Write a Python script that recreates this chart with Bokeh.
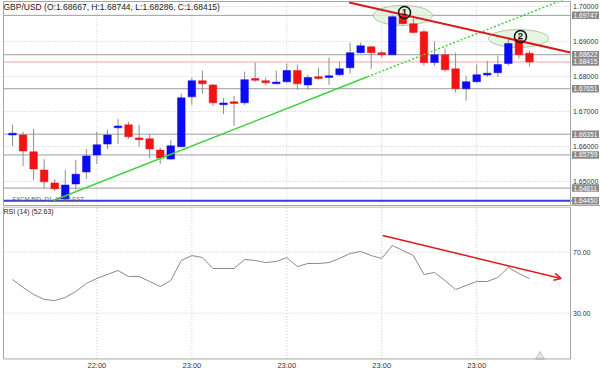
from bokeh.plotting import figure
from bokeh.layouts import column
from bokeh.models import Range1d, Label, Arrow, OpenHead, ColumnDataSource
from bokeh.core.properties import value
from bokeh.embed import file_html
from bokeh.resources import INLINE

FONT = "Liberation Sans"

# ---------------- data ----------------
opens = [1.6635, 1.6633, 1.6585, 1.6533, 1.6496, 1.6450, 1.6493, 1.6527, 1.6576, 1.6607,
         1.6655, 1.6662, 1.6623, 1.6622, 1.6590, 1.6564, 1.6599, 1.6742, 1.6788, 1.6776,
         1.6720, 1.6727, 1.6725, 1.6793, 1.6788, 1.6780, 1.6785, 1.6817, 1.6776, 1.6798,
         1.6797, 1.6805, 1.6825, 1.6868, 1.6885, 1.6868, 1.6862, 1.6974, 1.6951, 1.6928,
         1.6840, 1.6862, 1.6822, 1.6765, 1.6785, 1.6806, 1.6811, 1.6837, 1.6905, 1.68667]
highs = [1.6662, 1.6642, 1.6650, 1.6564, 1.6507, 1.6533, 1.6562, 1.6593, 1.6642, 1.6648,
         1.6679, 1.6670, 1.6662, 1.6636, 1.6596, 1.6619, 1.6751, 1.6797, 1.6817, 1.6779,
         1.6739, 1.6745, 1.6814, 1.6840, 1.6797, 1.6817, 1.6837, 1.6834, 1.6805, 1.6825,
         1.6854, 1.6842, 1.6897, 1.6897, 1.6888, 1.6874, 1.6975, 1.6985, 1.6966, 1.6934,
         1.6900, 1.6880, 1.6868, 1.6802, 1.6834, 1.6845, 1.6860, 1.6908, 1.6923, 1.68744]
lows = [1.6602, 1.6544, 1.6504, 1.6479, 1.6473, 1.6445, 1.6476, 1.6507, 1.6550, 1.6593,
        1.6607, 1.6622, 1.6599, 1.6567, 1.6550, 1.6562, 1.6599, 1.6719, 1.6751, 1.6716,
        1.6693, 1.6659, 1.6719, 1.6785, 1.6774, 1.6779, 1.6782, 1.6762, 1.6762, 1.6791,
        1.6776, 1.6802, 1.6808, 1.6866, 1.6822, 1.6854, 1.6862, 1.6948, 1.6923, 1.6831,
        1.6831, 1.6814, 1.6754, 1.6731, 1.6782, 1.6799, 1.6799, 1.6831, 1.6851, 1.68286]
closes = [1.6636, 1.6587, 1.6536, 1.6499, 1.6479, 1.6490, 1.6521, 1.6573, 1.6605, 1.6633,
          1.6657, 1.6628, 1.6621, 1.6593, 1.6567, 1.6602, 1.6739, 1.6788, 1.6779, 1.6725,
          1.6724, 1.6724, 1.6791, 1.6790, 1.6782, 1.6783, 1.6817, 1.6779, 1.6797, 1.6796,
          1.6802, 1.6822, 1.6868, 1.6888, 1.6868, 1.6862, 1.6971, 1.6951, 1.6926, 1.6840,
          1.6862, 1.6819, 1.6765, 1.6785, 1.6805, 1.6808, 1.6834, 1.6894, 1.6862, 1.68415]
rsi = [52.1, 46.9, 42.3, 39.0, 38.3, 40.3, 44.2, 49.5, 52.8, 55.4,
       58.0, 54.1, 54.1, 50.8, 47.5, 51.4, 64.6, 67.8, 66.5, 59.3,
       59.3, 59.3, 65.2, 64.6, 63.2, 63.9, 66.5, 60.6, 62.6, 62.6,
       63.2, 65.9, 69.1, 70.5, 67.8, 65.9, 74.4, 71.1, 67.8, 55.4,
       56.7, 51.4, 45.5, 48.2, 50.8, 50.8, 53.4, 60.0, 56.0, 52.63]

gray_levels = [1.69747, 1.68622, 1.67651, 1.66351, 1.65759, 1.64811]
price_ticks = [1.65, 1.66, 1.67, 1.68, 1.69, 1.70]
rsi_ticks = [30, 70]
time_tick_pos = [8, 17, 26, 35, 44]
time_tick_labels = ["22:00", "23:00", "23:00", "23:00", "23:00"]

# drawn annotations (bar index, price / rsi)
red_trend_x = [31.9, 52.9]
red_trend_y = [1.70114, 1.68686]
green_solid_x = [3.89, 33.65]
green_solid_y = [1.64457, 1.67992]
green_dot_x = [33.65, 52.9]
green_dot_y = [1.67992, 1.70278]
ellipse_x = [37.0, 47.96]
ellipse_y = [1.69743, 1.69086]
ellipse_w = [5.6, 5.7]
ellipse_h = [0.0057, 0.0051]
peak_x = [37.16, 48.15]
peak_y = [1.69829, 1.69143]
peak_text = ["1", "2"]
rsi_arrow_x = [35.1, 52.0]
rsi_arrow_y = [80.9, 52.8]
marker_x = [50.0]
marker_y = [1.5]

# ---------------- layout helpers (pixel -> data) ----------------
def xi(px):
    return (px - 12) / 10.55

def py(ypx):
    return 1.70 - (ypx - 6) / 3500.0

def ry(ypx):
    return 30 + (312.7 - ypx) * 40 / 61.0

X_L, X_R = xi(3), xi(570)
LAB_X = xi(572.5)
BOX_X, BOX_W = xi(585), 27 / 10.55

# ---------------- derived ----------------
n = len(opens)
idx = list(range(n))
BLUE = "#0c0cf2"
RED = "#f01414"
colors = [BLUE if c >= o else RED for o, c in zip(opens, closes)]
tops, bots = [], []
for o, c in zip(opens, closes):
    t, b = max(o, c), min(o, c)
    if t - b < 0.0005:
        m = (t + b) / 2
        t, b = m + 0.00025, m - 0.00025
    tops.append(t)
    bots.append(b)
src = ColumnDataSource(dict(x=idx, o=opens, h=highs, l=lows, c=closes,
                            top=tops, bot=bots, color=colors))

last_close = closes[-1]
low_level = min(lows)
all_levels = sorted(gray_levels + [last_close, low_level], reverse=True)

XR = Range1d(xi(0), xi(600))
GRID = "#c9c9c9"
BORDER = "#a6a6a6"
AXIS_TXT = "#333333"


def base_fig(h, yr):
    f = figure(width=600, height=h, x_range=XR, y_range=yr,
               x_axis_location=None, y_axis_location=None,
               output_backend="svg", toolbar_location=None,
               min_border_left=0, min_border_right=0,
               min_border_top=0, min_border_bottom=0)
    f.outline_line_color = None
    f.grid.visible = False
    f.background_fill_color = "white"
    f.border_fill_color = "white"
    return f


# ---------------- main price panel ----------------
p = base_fig(206, Range1d(py(206), py(0)))
MT, MB = py(1), py(205)

# dotted grid
p.segment(x0=[X_L] * len(price_ticks), y0=price_ticks, x1=[X_R] * len(price_ticks),
          y1=price_ticks, line_color=GRID, line_dash="1 2", line_width=1)
p.segment(x0=time_tick_pos, y0=[MB] * len(time_tick_pos), x1=time_tick_pos,
          y1=[MT] * len(time_tick_pos), line_color=GRID, line_dash="1 2", line_width=1)

# level lines
p.segment(x0=[X_L] * len(gray_levels), y0=gray_levels, x1=[xi(571)] * len(gray_levels),
          y1=gray_levels, line_color="#9c9c9c", line_width=1)
p.segment(x0=[X_L], y0=[last_close], x1=[xi(571)], y1=[last_close],
          line_color="#f0a8a8", line_width=1)
p.segment(x0=[X_L], y0=[low_level], x1=[xi(571)], y1=[low_level],
          line_color="#3b3bdc", line_width=2)

p.ellipse(x=ellipse_x, y=ellipse_y, width=ellipse_w, height=ellipse_h,
          fill_color="#dff0d8", fill_alpha=0.75, line_color="#a9c9a0", line_width=1)

p.segment(x0="x", y0="l", x1="x", y1="h", source=src, line_color="#8c8c8c", line_width=1)
p.vbar(x="x", width=0.72, top="top", bottom="bot", source=src,
       fill_color="color", line_color="color", line_width=0.5)

p.line(green_solid_x, green_solid_y, line_color="#3fd13f", line_width=1.5)
p.line(green_dot_x, green_dot_y, line_color="#3fd13f", line_width=1.5, line_dash="2 2")
p.line(red_trend_x, red_trend_y, line_color="#d81a1a", line_width=2)

p.scatter(x=peak_x, y=peak_y, marker="circle", size=12, fill_color=None,
          line_color="#111111", line_width=1.5)
p.text(x=peak_x, y=peak_y, text=peak_text, text_font=value(FONT), text_font_size="9px",
       text_font_style="bold", text_align="center", text_baseline="middle",
       text_color="#111111")

# panel frame
p.quad(left=[X_L], right=[X_R], top=[MT], bottom=[MB], fill_color=None,
       line_color=BORDER, line_width=1)
p.segment(x0=[X_R], y0=[MB], x1=[xi(600)], y1=[MB], line_color=BORDER, line_width=1)

# right price scale: round ticks and boxed level tags
p.text(x=[LAB_X] * len(price_ticks), y=price_ticks,
       text=[f"{t:.5f}" for t in price_ticks], text_font=value(FONT),
       text_font_size="7px", text_color=AXIS_TXT, text_align="left",
       text_baseline="middle")
p.rect(x=[BOX_X] * len(all_levels), y=all_levels, width=BOX_W, height=7.5 / 3500,
       fill_color="#8a8a8a", line_color=None)
p.text(x=[xi(573)] * len(all_levels), y=all_levels,
       text=[f"{lv:.5f}" for lv in all_levels], text_font=value(FONT),
       text_font_size="6.6px", text_color="white", text_align="left",
       text_baseline="middle")

title = (f"GBP/USD (O:{opens[-1]:.5f}, H:{highs[-1]:.5f}, "
         f"L:{lows[-1]:.5f}, C:{closes[-1]:.5f})")
p.add_layout(Label(x=3, y=200, x_units="screen", y_units="screen", text=title,
                   text_font=FONT, text_font_size="8.5px", text_color="#222222",
                   text_align="left", text_baseline="middle"))
p.add_layout(Label(x=12, y=8, x_units="screen", y_units="screen",
                   text="FXCM BID, D1, 01:00 EST", text_font=FONT,
                   text_font_size="6px", text_color="#666666",
                   text_align="left", text_baseline="middle"))

# ---------------- RSI panel ----------------
r = base_fig(163, Range1d(ry(369), ry(206)))
RT, RB = ry(206.5), 0

r.segment(x0=[X_L] * len(rsi_ticks), y0=rsi_ticks, x1=[X_R] * len(rsi_ticks),
          y1=rsi_ticks, line_color=GRID, line_dash="1 2", line_width=1)
r.segment(x0=time_tick_pos, y0=[RB] * len(time_tick_pos), x1=time_tick_pos,
          y1=[RT] * len(time_tick_pos), line_color=GRID, line_dash="1 2", line_width=1)

r.line(idx, rsi, line_color="#8a8a8a", line_width=1)
r.add_layout(Arrow(x_start=rsi_arrow_x[0], y_start=rsi_arrow_y[0],
                   x_end=rsi_arrow_x[1], y_end=rsi_arrow_y[1],
                   line_color="#e01818", line_width=1.5,
                   end=OpenHead(size=7, line_color="#e01818", line_width=1.5)))
r.scatter(x=marker_x, y=marker_y, marker="triangle", size=9,
          fill_color="#e4e4e4", line_color="#c4c4c4")

r.quad(left=[X_L], right=[X_R], top=[RT], bottom=[RB], fill_color=None,
       line_color=BORDER, line_width=1)

r.text(x=[LAB_X] * len(rsi_ticks), y=rsi_ticks, text=[f"{t:.2f}" for t in rsi_ticks],
       text_font=value(FONT), text_font_size="7px", text_color=AXIS_TXT,
       text_align="left", text_baseline="middle")
r.text(x=time_tick_pos, y=[ry(365)] * len(time_tick_pos), text=time_tick_labels,
       text_font=value(FONT), text_font_size="7.5px", text_color=AXIS_TXT,
       text_align="center", text_baseline="middle")
r.add_layout(Label(x=3, y=163 - 4.5, x_units="screen", y_units="screen",
                   text=f"RSI (14)  ({rsi[-1]:.2f})", text_font=FONT,
                   text_font_size="7px", text_color="#222222",
                   text_align="left", text_baseline="middle"))

layout = column(p, r, spacing=0)
open("out.html", "w").write(file_html(layout, INLINE))
